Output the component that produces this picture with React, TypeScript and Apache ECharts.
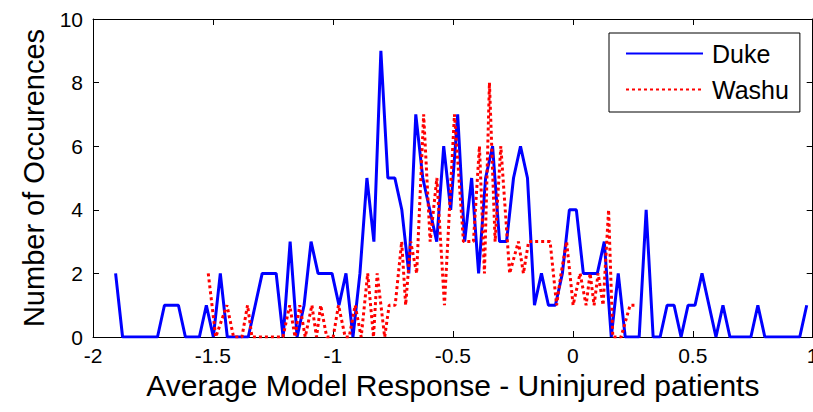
import React, { useEffect, useRef } from "react";
import * as echarts from "echarts";

const FONT = "'Liberation Sans', Arial, Helvetica, sans-serif";

// x-axis ticks
const xTicks = { min: -2, max: 1, interval: 0.5 };
const yTicks = { min: 0, max: 10, interval: 2 };

// Duke histogram: bin centres start + i * width, counts
const dukeStart = -1.9058;
const dukeBinWidth = 0.0291;
const dukeCounts = [
  2, 0, 0, 0, 0, 0, 0, 1, 1, 1,
  0, 0, 0, 1, 0, 2, 0, 0, 0, 0,
  1, 2, 2, 2, 0, 3, 0, 1, 3, 2,
  2, 2, 1, 2, 0, 2, 5, 3, 9, 5,
  5, 4, 2, 7, 5, 4, 3, 6, 4, 7,
  3, 5, 2, 5, 6, 3, 3, 5, 6, 5,
  1, 2, 1, 1, 2, 4, 4, 2, 2, 2,
  3, 0, 2, 0, 0, 0, 4, 0, 0, 1,
  1, 0, 1, 1, 2, 1, 0, 1, 0, 0,
  0, 0, 1, 0, 0, 0, 0, 0, 0, 1,
];

// Washu: vertices
const washuX = [
  -1.5196, -1.4883, -1.4417, -1.4142, -1.3792, -1.3558, -1.3375, -1.2083,
  -1.18, -1.1579, -1.1383, -1.1154, -1.0875, -1.0683, -1.0508, -1.0258,
  -0.9988, -0.9767, -0.9488, -0.9321, -0.9071, -0.8821, -0.855, -0.8308,
  -0.8154, -0.7842, -0.7654, -0.7404, -0.7133, -0.6967, -0.6758, -0.6508,
  -0.6217, -0.5946, -0.5667, -0.535, -0.4933, -0.4558, -0.4142, -0.3892,
  -0.3683, -0.3475, -0.3238, -0.3, -0.2633, -0.2267, -0.2058, -0.1842,
  -0.0946, -0.0675, -0.0488, -0.0258, 0.0013, 0.0304, 0.0554, 0.0721,
  0.0888, 0.1054, 0.1263, 0.1492, 0.1667, 0.2013, 0.2388, 0.2667,
];
const washuY = [
  2, 0, 1, 0, 0, 1, 0, 0,
  1, 0, 1, 0, 1, 0, 1, 0,
  0, 1, 0, 0, 1, 0, 2, 0,
  2, 0, 1, 1, 3, 1, 3, 2,
  7, 3, 5, 1, 7, 3, 3, 6,
  2, 8, 3, 6, 2, 3, 2, 3,
  3, 1, 2, 3, 1, 2, 1, 2,
  1, 2, 1, 4, 0, 0, 1, 1,
];

const seriesNames = ["Duke", "Washu"];
const xTitle = "Average Model Response - Uninjured patients";
const yTitle = "Number of Occurences";

export default function App() {
  const ref = useRef<HTMLDivElement>(null);
  useEffect(() => {
    if (!ref.current) return;
    const chart = echarts.init(ref.current, undefined, { renderer: "svg" });
    const dukeData = dukeCounts.map((c, i) => [dukeStart + i * dukeBinWidth, c]);
    const washuData = washuX.map((x, i) => [x, washuY[i]]);
    const axisLine = { show: true, onZero: false, lineStyle: { color: "#000", width: 1 } };
    const axisTick = { show: true, inside: true, length: 6, lineStyle: { color: "#000", width: 1 } };
    chart.setOption({
      animation: false,
      backgroundColor: "#fff",
      textStyle: { fontFamily: FONT },
      grid: {
        left: 93,
        right: 0.3,
        top: 19,
        bottom: 75,
        containLabel: false,
        outerBoundsMode: "none",
      },
      legend: {
        orient: "vertical",
        left: 609,
        top: 33,
        padding: [8, 11, 10, 16],
        itemWidth: 77,
        itemHeight: 25,
        itemGap: 11,
        backgroundColor: "#fff",
        borderColor: "#000",
        borderWidth: 1,
        borderRadius: 0,
        itemStyle: { opacity: 0 },
        textStyle: { fontSize: 25, color: "#000", fontFamily: FONT, padding: [0, 0, 0, 4] },
        data: seriesNames,
      },
      xAxis: [
        {
          type: "value",
          position: "bottom",
          ...xTicks,
          axisLine,
          axisTick,
          splitLine: { show: false },
          axisLabel: { color: "#000", fontSize: 21, margin: 8, fontFamily: FONT },
          name: xTitle,
          nameLocation: "middle",
          nameGap: 30,
          nameTextStyle: { fontSize: 30, color: "#000", fontFamily: FONT },
        },
        {
          type: "value",
          position: "top",
          ...xTicks,
          axisLine,
          axisTick,
          splitLine: { show: false },
          axisLabel: { show: false },
        },
      ],
      yAxis: [
        {
          type: "value",
          position: "left",
          ...yTicks,
          axisLine,
          axisTick,
          splitLine: { show: false },
          axisLabel: { color: "#000", fontSize: 21, margin: 10, fontFamily: FONT },
          name: yTitle,
          nameLocation: "middle",
          nameGap: 42,
          nameTextStyle: { fontSize: 29, color: "#000", fontFamily: FONT },
        },
        {
          type: "value",
          position: "right",
          ...yTicks,
          axisLine,
          axisTick,
          splitLine: { show: false },
          axisLabel: { show: false },
        },
      ],
      series: [
        {
          name: seriesNames[0],
          type: "line",
          data: dukeData,
          symbol: "none",
          color: "#0000ff",
          lineStyle: { color: "#0000ff", width: 3 },
        },
        {
          name: seriesNames[1],
          type: "line",
          data: washuData,
          symbol: "none",
          color: "#ff0000",
          lineStyle: { color: "#ff0000", width: 3, type: [3, 3] },
        },
      ],
    });
    return () => chart.dispose();
  }, []);
  return (
    <div
      ref={ref}
      style={{ position: "fixed", left: 0, top: 0, width: 813, height: 412, background: "#fff" }}
    />
  );
}
